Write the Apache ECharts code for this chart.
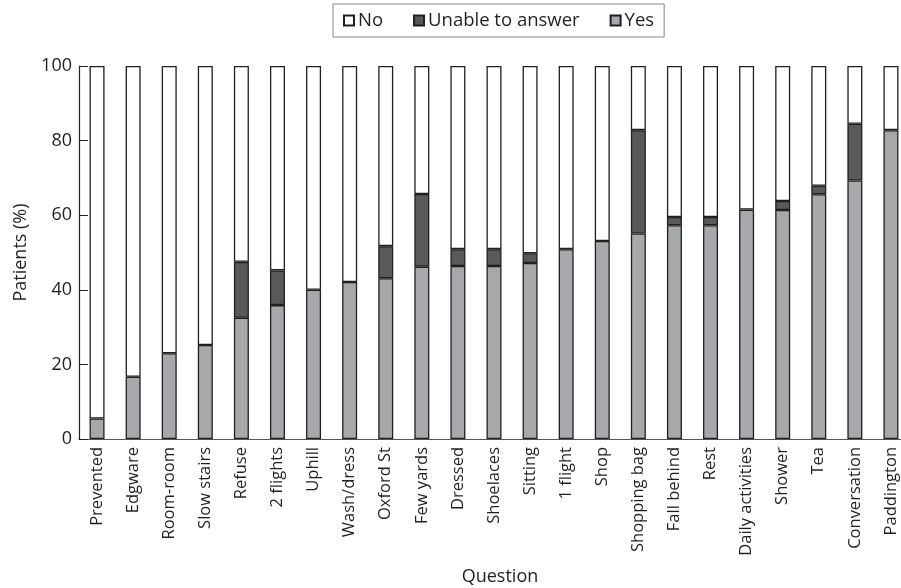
<!DOCTYPE html>
<html><head><meta charset="utf-8">
<script src="https://cdn.jsdelivr.net/npm/echarts@6/dist/echarts.min.js"></script>
<style>html,body{margin:0;padding:0;background:#fff}#c{width:901px;height:588px}</style>
</head><body><div id="c"></div>
<script>
var categories = ["Prevented","Edgware","Room-room","Slow stairs","Refuse","2 flights","Uphill","Wash/dress","Oxford St","Few yards","Dressed","Shoelaces","Sitting","1 flight","Shop","Shopping bag","Fall behind","Rest","Daily activities","Shower","Tea","Conversation","Paddington"];
var yesValues = [5.5,16.7,23.0,25.2,32.5,35.9,40.0,42.1,43.1,46.2,46.4,46.4,47.2,50.9,53.1,55.1,57.3,57.3,61.5,61.4,65.6,69.3,82.8];
var unableValues = [0,0,0,0,15.0,9.3,0,0,8.6,19.5,4.5,4.5,2.6,0,0,27.7,2.2,2.2,0,2.4,2.3,15.2,0];
var noValues = [94.5,83.3,77.0,74.8,52.5,54.8,60.0,57.9,48.3,34.3,49.1,49.1,50.2,49.1,46.9,17.2,40.5,40.5,38.5,36.2,32.1,15.5,17.2];
var yTicks = [0,20,40,60,80,100];

function nz(arr){ return arr.map(function(v){ return v === 0 ? '-' : v; }); }

var font = "Open Sans";
var chart = echarts.init(document.getElementById('c'));
var border = {borderColor:'#231f20', borderWidth:1.3};
chart.setOption({
  animation:false,
  textStyle:{fontFamily:font},
  legend:{
    top:4, left:333,
    data:['No','Unable to answer','Yes'],
    icon:'rect', itemWidth:10, itemHeight:10, itemGap:30,
    borderColor:'#888', borderWidth:1, padding:[7,10,7,10],
    textStyle:{fontFamily:font, fontSize:18.5, color:'#231f20', padding:[0,0,0,-1]}
  },
  grid:{left:79, right:-8, top:66, bottom:149, containLabel:false, outerBoundsMode:'none'},
  xAxis:{
    type:'category', data:categories,
    name:'Question', nameLocation:'middle', nameGap:129,
    nameTextStyle:{fontFamily:font, fontSize:18, color:'#231f20', padding:[0,0,0,12]},
    axisLine:{lineStyle:{color:'#555', width:1.2}},
    axisTick:{inside:true, length:6, lineStyle:{color:'#555'}},
    axisLabel:{rotate:90, interval:0, fontFamily:font, fontSize:16.5, color:'#231f20', margin:8}
  },
  yAxis:{
    type:'value', min:0, max:100, interval:20,
    name:'Patients (%)', nameLocation:'middle', nameGap:48,
    nameTextStyle:{fontFamily:font, fontSize:18, color:'#231f20'},
    axisLine:{show:true, lineStyle:{color:'#231f20', width:1.2}},
    axisTick:{show:true, inside:true, length:9, lineStyle:{color:'#231f20'}},
    splitLine:{show:false},
    axisLabel:{fontFamily:font, fontSize:18, color:'#231f20', margin:7,
      formatter:function(v){return yTicks.indexOf(v)>=0?String(v):'';}}
  },
  series:[
    {name:'Yes', type:'bar', stack:'a', data:nz(yesValues), barWidth:15,
     itemStyle:Object.assign({color:'#a7a8ac'},border)},
    {name:'Unable to answer', type:'bar', stack:'a', data:nz(unableValues), barWidth:15,
     itemStyle:Object.assign({color:'#58595b'},border)},
    {name:'No', type:'bar', stack:'a', data:nz(noValues), barWidth:15,
     itemStyle:Object.assign({color:'#ffffff'},border)}
  ]
});
</script></body></html>
